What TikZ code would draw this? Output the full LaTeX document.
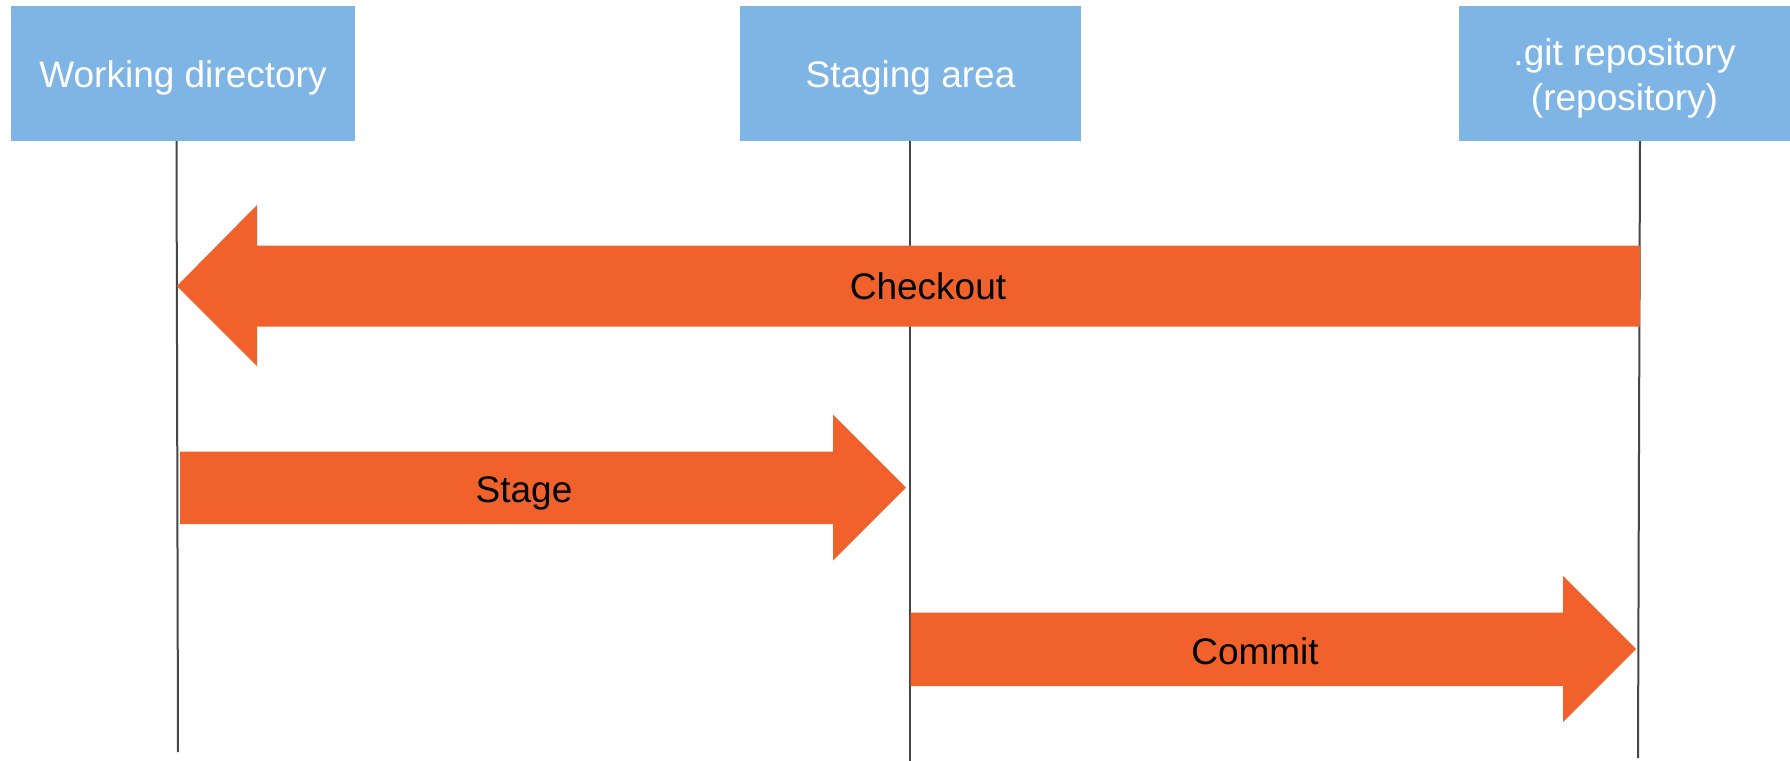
\documentclass[tikz,border=0pt]{standalone}
\usepackage{fontspec}
\setmainfont{Liberation Sans}
\definecolor{boxblue}{RGB}{127,181,229}
\definecolor{arrowor}{RGB}{240,97,44}
\definecolor{linegray}{RGB}{70,70,70}
\begin{document}
\begin{tikzpicture}[x=0.5pt,y=-0.5pt,
  stagebox/.style={fill=boxblue, draw=none, inner sep=0pt, minimum height=67.5pt},
  boxtext/.style={text=white, inner sep=0pt, align=center,
    font=\fontsize{18.5pt}{22.5pt}\selectfont},
  lifeline/.style={draw=linegray, line width=1pt},
  blockarrow/.style={fill=arrowor, draw=none},
  lbl/.style={font=\fontsize{18.5pt}{22pt}\selectfont, text=black, inner sep=0pt, anchor=base}]
\useasboundingbox (0,0) rectangle (1790,761);
\fill[white] (0,0) rectangle (1790,761);
% boxes
\node[stagebox, minimum width=172pt] (wd) at (183,73.5) {};
\node[stagebox, minimum width=170.5pt] (sa) at (910.5,73.5) {};
\node[stagebox, minimum width=165.5pt] (repo) at (1624.5,73.5) {};
\node[boxtext, anchor=base] (wdtext) at (183,87.3) {Working directory};
\node[boxtext, anchor=base] (satext) at (910.5,87.3) {Staging area};
\node[boxtext] (repotext) at (1624.5,78.7) {.git repository\\(repository)};
% lifelines
\coordinate (wdtop) at (176.5,141);
\coordinate (wdbot) at (178,752);
\coordinate (satop) at (910,141);
\coordinate (sabot) at (910,761);
\coordinate (repotop) at (1640,141);
\coordinate (repobot) at (1638,758);
\draw[lifeline] (wdtop) -- (wdbot);
\draw[lifeline] (satop) -- (sabot);
\draw[lifeline] (repotop) -- (repobot);
% checkout arrow
\fill[blockarrow] (177,286) -- (257,205) -- (257,245.5) -- (1640,245.5) -- (1640,326.5)
  -- (257,326.5) -- (257,366) -- cycle;
\node[lbl] (checkout) at (928,299.3) {Checkout};
% stage arrow
\fill[blockarrow] (180,451.5) -- (833,451.5) -- (833,414.5) -- (906,487.5) -- (833,560.5)
  -- (833,524) -- (180,524) -- cycle;
\node[lbl] (stage) at (524,502.5) {Stage};
% commit arrow
\fill[blockarrow] (910.5,612.5) -- (1563,612.5) -- (1563,576) -- (1636,649) -- (1563,722)
  -- (1563,686) -- (910.5,686) -- cycle;
\node[lbl] (commit) at (1255,664.5) {Commit};
\end{tikzpicture}
\end{document}
